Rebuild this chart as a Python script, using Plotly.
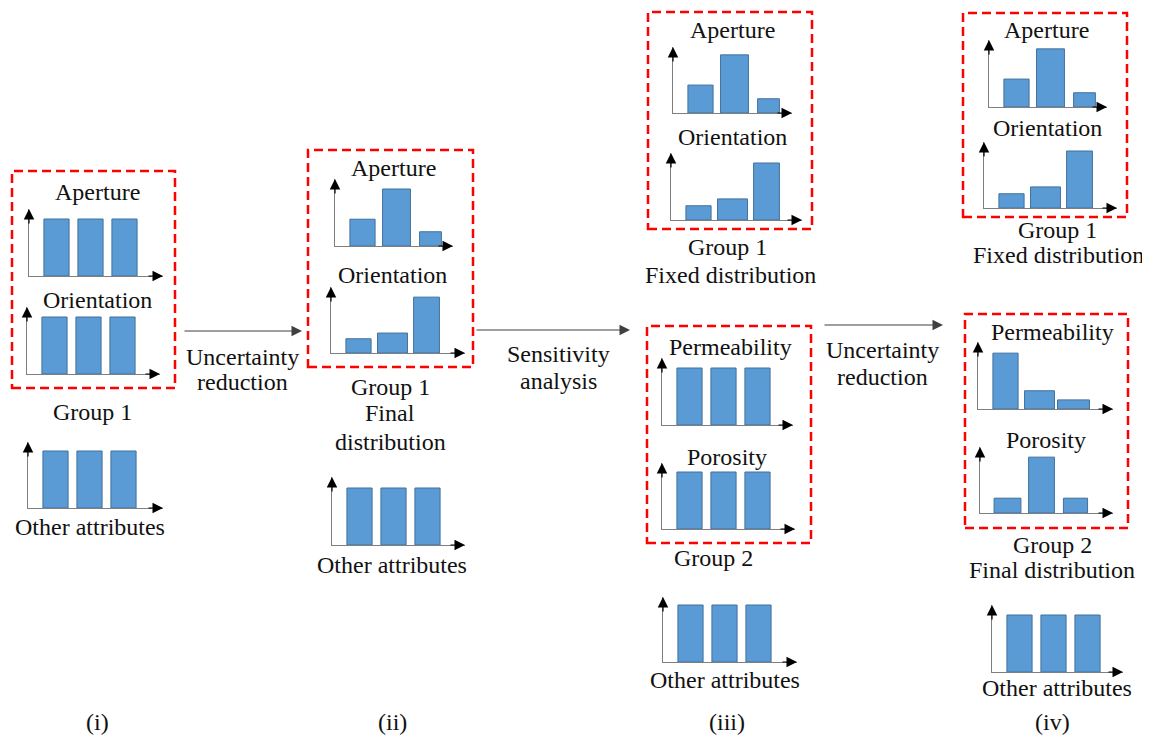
import plotly.graph_objects as go

W, H = 1150, 740
PAGE_OFF = 8          # default page margin of the HTML body

# ---------------- data ----------------
CATS = [0, 1, 2]                      # three bins of each attribute histogram
UNIFORM = [10, 10, 10]                # initial (uniform) distribution
AP_FINAL_II = [4.7, 10, 2.5]          # (ii) Aperture final distribution
OR_FINAL_II = [2.5, 3.5, 9.8]         # (ii) Orientation final distribution
AP_FIXED_III = [4.9, 10.2, 2.5]       # (iii) Aperture fixed distribution
OR_FIXED_III = [2.5, 3.7, 10.0]       # (iii) Orientation fixed distribution
AP_FIXED_IV = [4.9, 10.2, 2.5]        # (iv) Aperture fixed distribution
OR_FIXED_IV = [2.5, 3.7, 10.0]        # (iv) Orientation fixed distribution
PERM_FINAL_IV = [9.8, 3.2, 1.6]       # (iv) Permeability final distribution
POR_FINAL_IV = [2.6, 9.8, 2.6]        # (iv) Porosity final distribution

STAGE_LABELS = ["(i)", "(ii)", "(iii)", "(iv)"]
STEP_LABELS = [["Uncertainty", "reduction"], ["Sensitivity", "analysis"], ["Uncertainty", "reduction"]]

# ---------------- styles ----------------
FONT = "Liberation Serif"
FS = 24
TXT = "#111111"
BAR_FILL = "#5B9BD5"
BAR_LINE = "#41719C"
AX_LINE = "#7F7F7F"
HEAD_COL = "#000000"
STEP_COL = "#404040"
RED = "#FF0000"
PX_PER_BIN = 34.0      # horizontal pixels per bin
FIRST_OFF = 27.5       # pixels from y-axis to first bin centre
PX_PER_UNIT = 5.7      # vertical pixels per value unit
HEAD_SIZE = 1.75

W_UNI = [0.74, 0.74, 0.74]
W_AP = [0.74, 0.82, 0.64]
W_OR = [0.74, 0.88, 0.76]
W_PERM = [0.74, 0.88, 0.94]
W_POR = [0.79, 0.76, 0.71]

# chart placement: (values, widths, y-axis x px, x-axis y px, x-arrow tip px, y-arrow tip px)
charts = [
    (UNIFORM, W_UNI, 29, 276, 163, 209),
    (UNIFORM, W_UNI, 27, 374, 160, 307),
    (UNIFORM, W_UNI, 28, 508, 163, 442),
    (AP_FINAL_II, W_AP, 335, 246, 453, 179),
    (OR_FINAL_II, W_OR, 331, 353, 465, 287),
    (UNIFORM, W_UNI, 332, 545, 465, 477),
    (AP_FIXED_III, W_AP, 673, 113, 792, 47),
    (OR_FIXED_III, W_OR, 671, 220, 802, 153),
    (UNIFORM, W_UNI, 662, 425, 793, 358),
    (UNIFORM, W_UNI, 662, 529, 795, 463),
    (UNIFORM, W_UNI, 663, 662, 797, 597),
    (AP_FIXED_IV, W_AP, 989, 107, 1107, 40),
    (OR_FIXED_IV, W_OR, 984, 208, 1117, 142),
    (PERM_FINAL_IV, W_PERM, 978, 409, 1113, 342),
    (POR_FINAL_IV, W_POR, 980, 513, 1113, 447),
    (UNIFORM, W_UNI, 992, 672, 1123, 605),
]

texts = [
    ("Aperture", 97, 192), ("Orientation", 97, 300), ("Group 1", 92, 412), ("Other attributes", 90, 527),
    ("Aperture", 393, 168), ("Orientation", 392, 275), ("Group 1", 390, 387), ("Final", 390, 413),
    ("distribution", 390, 442), ("Other attributes", 392, 565),
    ("Aperture", 732, 30), ("Orientation", 732, 137), ("Group 1", 728, 247), ("Fixed distribution", 730, 275),
    ("Permeability", 730, 347), ("Porosity", 727, 457), ("Group 2", 713, 558), ("Other attributes", 725, 680),
    ("Aperture", 1046, 30), ("Orientation", 1047, 128), ("Group 1", 1057, 230), ("Fixed distribution", 1058, 255),
    ("Permeability", 1052, 332), ("Porosity", 1046, 440), ("Group 2", 1052, 545),
    ("Final distribution", 1052, 570), ("Other attributes", 1057, 688),
]
stage_pos = [(97, 722), (392, 722), (727, 722), (1052, 722)]
step_arrows = [(183, 302, 331), (475, 630, 330), (823, 943, 325)]
step_text_pos = [(242, 357, 382), (558, 354, 381), (882, 350, 377)]
red_boxes = [(12, 171, 175, 388), (308, 150, 473, 367), (648, 12, 812, 229),
             (647, 326, 811, 543), (963, 13, 1127, 217), (965, 314, 1128, 528)]

FW, FH = W - PAGE_OFF, H - PAGE_OFF


def px(x):
    return (x - PAGE_OFF) / FW


def py(y):
    return 1 - (y - PAGE_OFF) / FH


fig = go.Figure()
layout = dict(
    width=FW, height=FH, margin=dict(l=0, r=0, t=0, b=0, pad=0),
    paper_bgcolor="white", plot_bgcolor="rgba(0,0,0,0)", showlegend=False,
    font=dict(family=FONT, size=FS, color=TXT),
)
annotations = []
shapes = []

axis_style = dict(visible=True, showline=True, linecolor=AX_LINE, linewidth=1.3, showgrid=False,
                  zeroline=False, showticklabels=False, ticks="", fixedrange=True)

for i, (vals, widths, ox, oy, xe, yt) in enumerate(charts, start=1):
    xa = "x" if i == 1 else f"x{i}"
    ya = "y" if i == 1 else f"y{i}"
    xkey = "xaxis" if i == 1 else f"xaxis{i}"
    ykey = "yaxis" if i == 1 else f"yaxis{i}"
    fig.add_trace(go.Bar(
        x=CATS, y=vals, width=widths, xaxis=xa, yaxis=ya,
        marker=dict(color=BAR_FILL, line=dict(color=BAR_LINE, width=1)),
        hoverinfo="skip",
    ))
    lo = -FIRST_OFF / PX_PER_BIN
    layout[xkey] = dict(domain=[px(ox), px(xe)], range=[lo, lo + (xe - ox) / PX_PER_BIN],
                        anchor=ya, side="bottom", **axis_style)
    layout[ykey] = dict(domain=[py(oy), py(yt)], range=[0, (oy - yt) / PX_PER_UNIT],
                        anchor=xa, side="left", **axis_style)
    # arrowheads at the axis tips
    for hx, hy, dx, dy in ((1, 0, -16, 0), (0, 1, 0, 16)):
        annotations.append(dict(
            xref=f"{xa} domain", yref=f"{ya} domain", x=hx, y=hy,
            axref="pixel", ayref="pixel", ax=dx, ay=dy,
            showarrow=True, arrowhead=2, arrowsize=HEAD_SIZE, arrowwidth=1.2, arrowcolor=HEAD_COL, text="",
        ))

for t, x, y in texts:
    annotations.append(dict(xref="paper", yref="paper", x=px(x), y=py(y), text=t, showarrow=False,
                            xanchor="center", yanchor="middle", font=dict(family=FONT, size=FS, color=TXT)))

for lab, (x, y) in zip(STAGE_LABELS, stage_pos):
    annotations.append(dict(xref="paper", yref="paper", x=px(x), y=py(y), text=lab, showarrow=False,
                            xanchor="center", yanchor="middle", font=dict(family=FONT, size=FS, color=TXT)))

for (x0, x1, y), (tx, ty1, ty2), lines in zip(step_arrows, step_text_pos, STEP_LABELS):
    annotations.append(dict(xref="paper", yref="paper", x=px(x1), y=py(y), axref="pixel", ayref="pixel",
                            ax=-(x1 - x0), ay=0, text="", showarrow=True, arrowhead=2, arrowsize=HEAD_SIZE,
                            arrowwidth=1.2, arrowcolor=STEP_COL))
    for t, yy in zip(lines, (ty1, ty2)):
        annotations.append(dict(xref="paper", yref="paper", x=px(tx), y=py(yy), text=t, showarrow=False,
                                xanchor="center", yanchor="middle", font=dict(family=FONT, size=FS, color=TXT)))

for x0, y0, x1, y1 in red_boxes:
    shapes.append(dict(type="rect", xref="paper", yref="paper", x0=px(x0), x1=px(x1), y0=py(y1), y1=py(y0),
                       line=dict(color=RED, width=2.5, dash="9px,5px"), fillcolor="rgba(0,0,0,0)"))

layout["annotations"] = annotations
layout["shapes"] = shapes
fig.update_layout(**layout)
fig.write_html("out.html")
